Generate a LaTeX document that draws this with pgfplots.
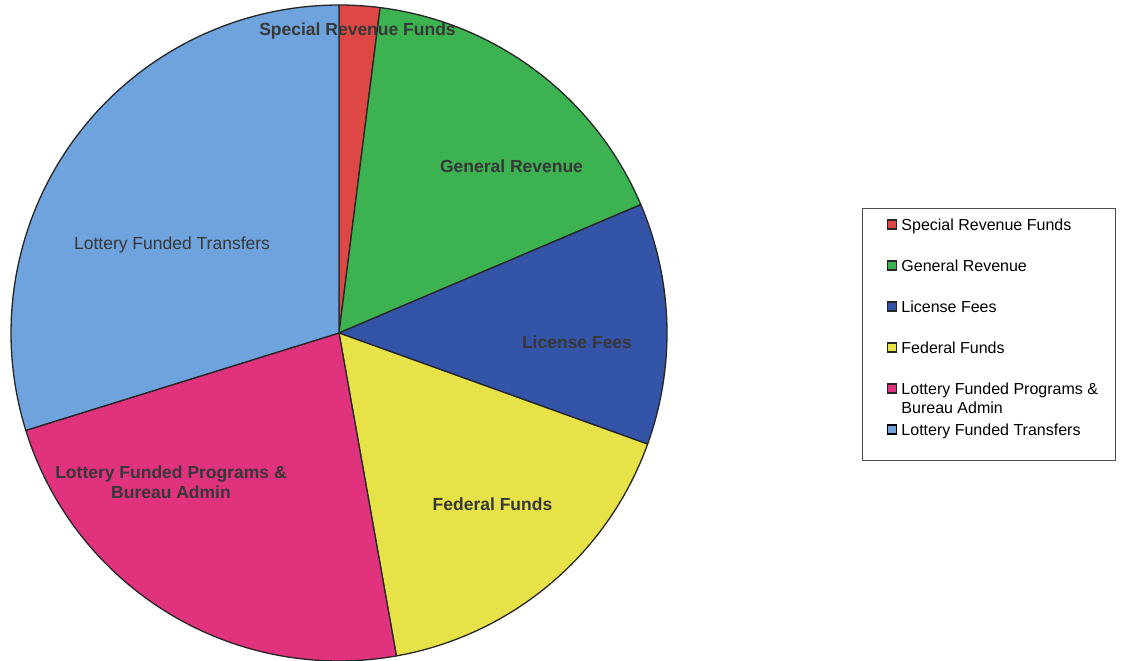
\documentclass[border=0pt]{standalone}
\usepackage{pgfplots}
\pgfplotsset{compat=1.18}
\usepackage{fontspec}
\setmainfont{Liberation Sans}
\definecolor{cRed}{RGB}{222,72,68}
\definecolor{cGreen}{RGB}{60,178,80}
\definecolor{cBlue}{RGB}{52,84,168}
\definecolor{cYellow}{RGB}{230,226,72}
\definecolor{cPink}{RGB}{225,50,125}
\definecolor{cLBlue}{RGB}{111,163,221}
\definecolor{lbl}{RGB}{55,55,55}
\begin{document}
\begin{tikzpicture}
\begin{axis}[
  width=1124pt, height=661pt, scale only axis,
  xmin=-1.03354, xmax=2.39329, ymin=-1.0, ymax=1.01524,
  hide axis,
  after end axis/.code={\path (rel axis cs:0,0) rectangle (rel axis cs:1,1);},
  legend style={at={(0.7669,0.6853)}, anchor=north west, draw=black!70, line width=0.8pt,
    font=\fontsize{16}{19}\selectfont, inner xsep=17pt, inner ysep=2pt, row sep=0pt, column sep=4pt,
    nodes={inner sep=0pt, text depth=}, cells={anchor=base west}},
  legend image code/.code={\path (-8pt,0pt); \draw[#1, line width=1.3pt] (0pt,1.5pt) rectangle (9pt,10.5pt);},
]
\pgfmathsetmacro\cum{0}
\pgfplotsforeachungrouped \v/\c in {2.0/cRed, 16.6/cGreen, 11.9/cBlue, 16.7/cYellow, 23.0/cPink, 29.8/cLBlue}{
  \pgfmathsetmacro\a{90-3.6*\cum}
  \pgfmathsetmacro\b{90-3.6*(\cum+\v)}
  \edef\tmp{\noexpand\addplot[fill=\c, draw=black!85, line width=1.3pt, line join=round, domain=\b:\a, samples=90, forget plot] ({cos(x)},{sin(x)}) -- (axis cs:0,0) -- cycle;}
  \tmp
  \pgfmathsetmacro\cum{\cum+\v}
}
\addlegendimage{fill=cRed, draw=black!85}
\addlegendentry{\rule[-21pt]{0pt}{41pt}Special Revenue Funds}
\addlegendimage{fill=cGreen, draw=black!85}
\addlegendentry{\rule[-21pt]{0pt}{41pt}General Revenue}
\addlegendimage{fill=cBlue, draw=black!85}
\addlegendentry{\rule[-21pt]{0pt}{41pt}License Fees}
\addlegendimage{fill=cYellow, draw=black!85}
\addlegendentry{\rule[-21pt]{0pt}{41pt}Federal Funds}
\addlegendimage{fill=cPink, draw=black!85}
\addlegendentry{\begin{tabular}[t]{@{}l@{}}\rule{0pt}{20pt}Lottery Funded Programs \&\\Bureau Admin\end{tabular}}
\addlegendimage{fill=cLBlue, draw=none}
\addlegendentry{\rule[-23pt]{0pt}{39.3pt}Lottery Funded Transfers}

\begin{scope}[font=\fontsize{17.5}{20}\selectfont\bfseries, text=lbl]
\node at (axis cs:0.0564,0.9207) {Special Revenue Funds};
\node at (axis cs:0.5259,0.5092) {General Revenue};
\node at (axis cs:0.7256,-0.0274) {License Fees};
\node at (axis cs:0.4680,-0.5213) {Federal Funds};
\node[align=center] at (axis cs:-0.5122,-0.4543) {Lottery Funded Programs \&\\Bureau Admin};
\node[font=\fontsize{17.5}{20}\selectfont\mdseries] at (axis cs:-0.5091,0.2683) {Lottery Funded Transfers};
\end{scope}
\end{axis}
\end{tikzpicture}
\end{document}
